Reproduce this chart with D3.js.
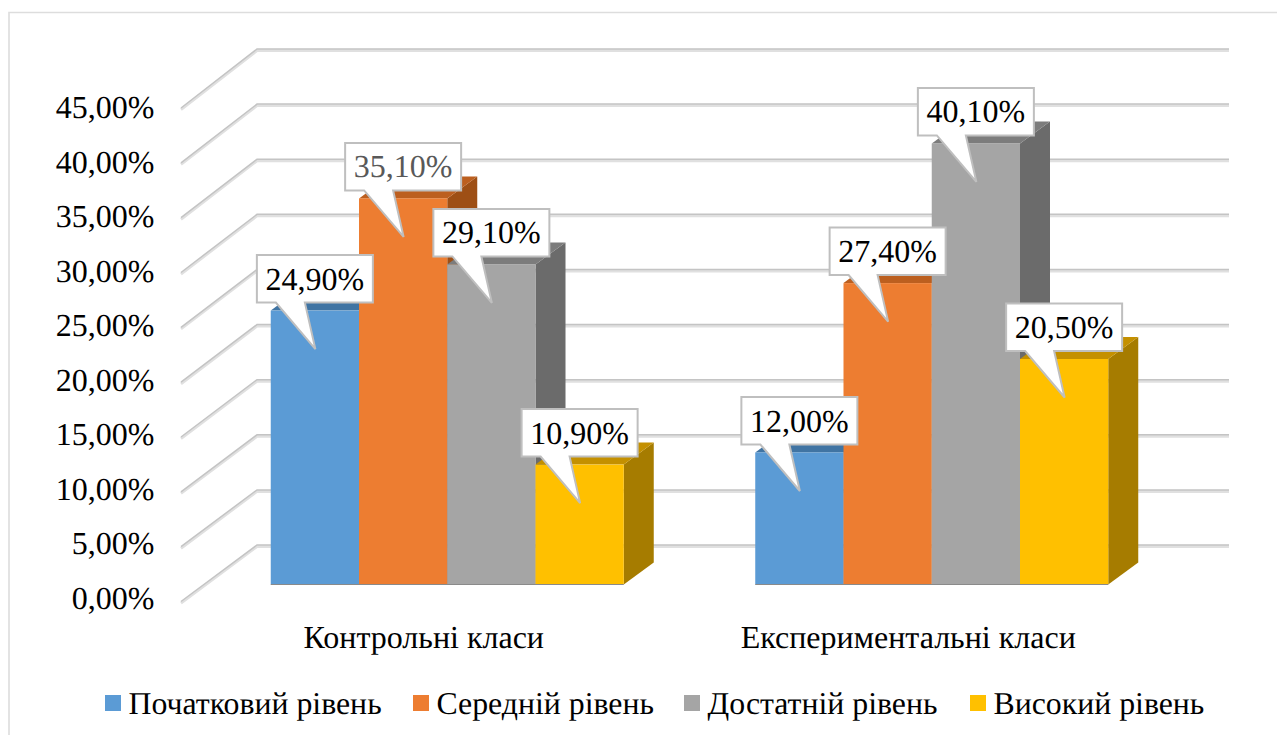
<!DOCTYPE html>
<html>
<head>
<meta charset="utf-8">
<script src="https://cdnjs.cloudflare.com/ajax/libs/d3/7.8.5/d3.min.js"></script>
<style>
html,body{margin:0;padding:0;background:#fff;overflow:hidden}
svg{display:block}
text{font-family:"Liberation Serif","Times New Roman",serif;fill:#000;text-rendering:geometricPrecision}
</style>
</head>
<body>
<svg id="chart" width="1277" height="735"></svg>
<script>
const categories = ["Контрольні класи", "Експериментальні класи"];
const seriesNames = ["Початковий рівень", "Середній рівень", "Достатній рівень", "Високий рівень"];
const initialLevel = [24.9, 12.0];
const middleLevel = [35.1, 27.4];
const sufficientLevel = [29.1, 40.1];
const highLevel = [10.9, 20.5];
const seriesValues = [initialLevel, middleLevel, sufficientLevel, highLevel];
const tickValues = [0, 5, 10, 15, 20, 25, 30, 35, 40, 45];

const faceColors = ["#5B9BD5", "#ED7D31", "#A5A5A5", "#FFC000"];
const topColors = ["#4074A3", "#BC5F1F", "#7C7C7C", "#C49000"];
const sideColors = ["#3A6890", "#9E4F15", "#6B6B6B", "#A67C00"];

const fmt = v => v.toFixed(2).replace(".", ",") + "%";
const svg = d3.select("#chart");

// Frame around the chart area
svg.append("path").attr("d", "M9,735V12.5H1277").attr("fill", "none")
  .attr("stroke", "#DDDDDD").attr("stroke-width", 1.6);

// Oblique projection: separate scales for the front edge, the back wall,
// the bars standing mid-floor and the axis label baselines
const yFront = d3.scaleLinear().domain([0, 45]).range([601.5, 108]);
const yBack = d3.scaleLinear().domain([0, 45]).range([545, 49]);
const yBar = d3.scaleLinear().domain([0, 45]).range([584.5, 89.5]);
const yLabel = d3.scaleLinear().domain([0, 45]).range([609, 118]);
const barDepthX = 30, barDepthY = -22;
const xCat = d3.scaleBand().domain(categories).range([181, 1150]);
const xSeries = d3.scaleBand().domain(seriesNames).range([0, 353]);
const groupX = c => xCat(c) + xCat.bandwidth() / 2 - 177 + 24.5;
const wallLeft = 257, wallRight = 1229;

// Gridlines on the side and back walls, each with a pale lower edge
const grid = svg.append("g");
tickValues.forEach(t => {
  const pathD = `M181,${yFront(t)}L${wallLeft},${yBack(t)}H${wallRight}`;
  grid.append("path").attr("d", pathD).attr("transform", "translate(0,1.6)")
    .attr("fill", "none").attr("stroke", "#E0E0E0").attr("stroke-width", 2.8);
  grid.append("path").attr("d", pathD)
    .attr("fill", "none").attr("stroke", "#C4C4C4").attr("stroke-width", 1.5);
});

// Value axis labels
svg.append("g").selectAll("text").data(tickValues).join("text")
  .attr("x", 154.5).attr("y", d => yLabel(d))
  .attr("text-anchor", "end").attr("font-size", 32).text(fmt);

// Bars: one front face, one top face and one side face each
const bars = svg.append("g");
categories.forEach((c, ci) => {
  seriesNames.forEach((s, si) => {
    const v = seriesValues[si][ci];
    const x = groupX(c) + xSeries(s), w = xSeries.bandwidth();
    const y = yBar(v), y0 = yBar(0);
    bars.append("path").attr("fill", sideColors[si])
      .attr("d", `M${x + w},${y}L${x + w + barDepthX},${y + barDepthY}V${y0 + barDepthY}L${x + w},${y0}Z`);
    bars.append("path").attr("fill", topColors[si])
      .attr("d", `M${x},${y}L${x + barDepthX},${y + barDepthY}H${x + w + barDepthX}L${x + w},${y}Z`);
    bars.append("rect").attr("fill", faceColors[si])
      .attr("x", x).attr("y", y).attr("width", w).attr("height", y0 - y);
  });
  bars.append("path").attr("fill", "none").attr("stroke", "#8A8A8A").attr("stroke-width", 1)
    .attr("d", `M${groupX(c)},${yBar(0)}h353`);
});

// Value callouts pointing into each bar
const calloutW = 116, calloutH = 47.5, tipDrop = 38.5, tailDrop = 46.5;
const callouts = svg.append("g");
categories.forEach((c, ci) => {
  seriesNames.forEach((s, si) => {
    const v = seriesValues[si][ci];
    const cx = groupX(c) + xSeries(s) + xSeries.bandwidth() / 2;
    const tipY = yBar(v) + tipDrop;
    const bottom = tipY - tailDrop, top = bottom - calloutH;
    const left = cx - calloutW / 2;
    const d = `M${left},${top}H${left + calloutW}V${bottom}H${left + 48}L${left + 58.5},${tipY}L${left + 19},${bottom}H${left}Z`;
    callouts.append("path").attr("d", d).attr("fill", "#fff")
      .attr("stroke", "#BFBFBF").attr("stroke-width", 2).attr("stroke-linejoin", "miter");
    callouts.append("text").attr("x", left + calloutW / 2).attr("y", bottom - 13)
      .attr("text-anchor", "middle").attr("font-size", 32)
      .style("fill", (ci === 0 && si === 1) ? "#595959" : "#000")
      .text(fmt(v));
  });
});

// Category labels
svg.append("g").selectAll("text").data(categories).join("text")
  .attr("x", d => xCat(d) + xCat.bandwidth() / 2 + 0.5).attr("y", 648)
  .attr("text-anchor", "middle").attr("font-size", 32).text(d => d);

// Legend
const legendSwatchX = [105, 413, 684, 970];
const legend = svg.append("g").selectAll("g").data(seriesNames).join("g")
  .attr("transform", (d, i) => `translate(${legendSwatchX[i]},0)`);
legend.append("rect").attr("y", 695).attr("width", 16).attr("height", 16)
  .attr("fill", (d, i) => faceColors[i]);
legend.append("text").attr("x", 23.5).attr("y", 714).attr("font-size", 31.8).text(d => d);
</script>
</body>
</html>
